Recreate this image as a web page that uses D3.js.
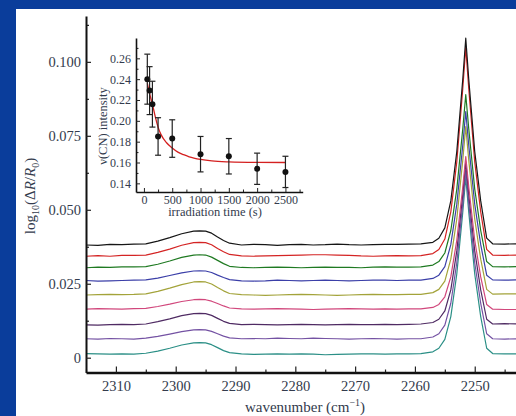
<!DOCTYPE html>
<html>
<head>
<meta charset="utf-8">
<script src="https://cdn.jsdelivr.net/npm/d3@7"></script>
<style>
  body { margin: 0; background: #0a3d9b; }
  svg { display: block; }
  text { font-family: "Liberation Serif", "Times New Roman", serif; fill: #333b4d; }
</style>
</head>
<body>
<svg id="chart" width="516" height="416"></svg>
<script>
// wavenumber grid (cm-1), shared by all spectra
var wavenumbers = [2315, 2313, 2311, 2309, 2307, 2305, 2303, 2301, 2299, 2297, 2296, 2295, 2294, 2293, 2292, 2291,
  2289, 2287, 2285, 2283, 2281, 2279, 2277, 2275, 2273, 2271, 2269, 2267, 2265, 2263, 2261, 2259,
  2257, 2256, 2255, 2254, 2253, 2252, 2251.5, 2251, 2250, 2249, 2248, 2247, 2245, 2243];

var seriesColors = ["#161616", "#d42424", "#1f7a22", "#3b3fa8", "#a3a33a", "#d1477c", "#4f2b63", "#7452a3", "#2b8f86"];

// log10(dR/R0), top trace first
var spectra = [
  [0.0381, 0.0380, 0.0383, 0.0382, 0.0384, 0.0385, 0.0394, 0.0406, 0.0419, 0.0428, 0.0429, 0.0428, 0.0421, 0.0408, 0.0396, 0.0387,
   0.0381, 0.0383, 0.0382, 0.0380, 0.0382, 0.0383, 0.0381, 0.0382, 0.0384, 0.0382, 0.0381, 0.0382, 0.0383, 0.0383, 0.0384, 0.0385,
   0.0390, 0.0404, 0.0439, 0.0530, 0.0697, 0.0941, 0.1080, 0.0941, 0.0697, 0.0530, 0.0404, 0.0385, 0.0384, 0.0385],
  [0.0343, 0.0345, 0.0343, 0.0346, 0.0346, 0.0347, 0.0356, 0.0367, 0.0380, 0.0389, 0.0390, 0.0389, 0.0382, 0.0369, 0.0358, 0.0349,
   0.0344, 0.0343, 0.0344, 0.0345, 0.0346, 0.0347, 0.0348, 0.0348, 0.0347, 0.0346, 0.0344, 0.0343, 0.0344, 0.0345, 0.0344, 0.0345,
   0.0352, 0.0366, 0.0401, 0.0493, 0.0662, 0.0909, 0.1049, 0.0909, 0.0662, 0.0493, 0.0366, 0.0347, 0.0346, 0.0347],
  [0.0304, 0.0306, 0.0305, 0.0307, 0.0307, 0.0308, 0.0316, 0.0327, 0.0339, 0.0347, 0.0348, 0.0347, 0.0340, 0.0329, 0.0318, 0.0309,
   0.0305, 0.0304, 0.0305, 0.0306, 0.0305, 0.0304, 0.0305, 0.0306, 0.0305, 0.0305, 0.0304, 0.0306, 0.0307, 0.0306, 0.0306, 0.0307,
   0.0313, 0.0325, 0.0354, 0.0430, 0.0570, 0.0774, 0.0889, 0.0774, 0.0570, 0.0430, 0.0325, 0.0308, 0.0307, 0.0308],
  [0.0261, 0.0259, 0.0260, 0.0261, 0.0262, 0.0263, 0.0269, 0.0278, 0.0287, 0.0293, 0.0294, 0.0293, 0.0288, 0.0279, 0.0271, 0.0264,
   0.0260, 0.0259, 0.0260, 0.0262, 0.0261, 0.0260, 0.0261, 0.0262, 0.0261, 0.0260, 0.0261, 0.0262, 0.0262, 0.0261, 0.0262, 0.0262,
   0.0268, 0.0279, 0.0308, 0.0382, 0.0519, 0.0718, 0.0832, 0.0718, 0.0519, 0.0382, 0.0279, 0.0263, 0.0262, 0.0263],
  [0.0212, 0.0213, 0.0214, 0.0213, 0.0214, 0.0216, 0.0224, 0.0235, 0.0247, 0.0256, 0.0257, 0.0256, 0.0249, 0.0237, 0.0226, 0.0217,
   0.0213, 0.0212, 0.0211, 0.0212, 0.0213, 0.0214, 0.0213, 0.0212, 0.0211, 0.0212, 0.0213, 0.0214, 0.0213, 0.0213, 0.0214, 0.0214,
   0.0220, 0.0231, 0.0259, 0.0333, 0.0469, 0.0668, 0.0781, 0.0668, 0.0469, 0.0333, 0.0231, 0.0215, 0.0216, 0.0216],
  [0.0164, 0.0166, 0.0165, 0.0164, 0.0166, 0.0167, 0.0173, 0.0181, 0.0190, 0.0196, 0.0197, 0.0196, 0.0191, 0.0183, 0.0175, 0.0168,
   0.0165, 0.0164, 0.0165, 0.0166, 0.0165, 0.0164, 0.0163, 0.0164, 0.0165, 0.0166, 0.0165, 0.0164, 0.0165, 0.0164, 0.0165, 0.0165,
   0.0170, 0.0180, 0.0206, 0.0273, 0.0397, 0.0577, 0.0680, 0.0577, 0.0397, 0.0273, 0.0180, 0.0164, 0.0163, 0.0163],
  [0.0111, 0.0110, 0.0112, 0.0113, 0.0112, 0.0114, 0.0122, 0.0131, 0.0142, 0.0149, 0.0150, 0.0149, 0.0143, 0.0133, 0.0123, 0.0116,
   0.0112, 0.0113, 0.0112, 0.0111, 0.0112, 0.0113, 0.0112, 0.0111, 0.0112, 0.0113, 0.0112, 0.0112, 0.0113, 0.0112, 0.0113, 0.0114,
   0.0119, 0.0130, 0.0158, 0.0229, 0.0361, 0.0552, 0.0662, 0.0552, 0.0361, 0.0229, 0.0130, 0.0114, 0.0115, 0.0114],
  [0.0064, 0.0063, 0.0065, 0.0064, 0.0063, 0.0066, 0.0072, 0.0080, 0.0088, 0.0094, 0.0095, 0.0094, 0.0089, 0.0081, 0.0073, 0.0067,
   0.0064, 0.0065, 0.0064, 0.0066, 0.0065, 0.0064, 0.0066, 0.0065, 0.0064, 0.0063, 0.0064, 0.0065, 0.0064, 0.0063, 0.0064, 0.0064,
   0.0070, 0.0081, 0.0110, 0.0184, 0.0321, 0.0520, 0.0634, 0.0520, 0.0321, 0.0184, 0.0081, 0.0064, 0.0063, 0.0064],
  [0.0014, 0.0013, 0.0012, 0.0013, 0.0012, 0.0015, 0.0022, 0.0032, 0.0043, 0.0050, 0.0051, 0.0050, 0.0044, 0.0034, 0.0024, 0.0017,
   0.0013, 0.0011, 0.0012, 0.0013, 0.0012, 0.0013, 0.0012, 0.0010, 0.0011, 0.0012, 0.0013, 0.0013, 0.0012, 0.0013, 0.0013, 0.0014,
   0.0020, 0.0032, 0.0062, 0.0139, 0.0283, 0.0492, 0.0610, 0.0492, 0.0283, 0.0139, 0.0032, 0.0014, 0.0013, 0.0013]
];

var xTicks = [2310, 2300, 2290, 2280, 2270, 2260, 2250];
var yTicks = [0, 0.025, 0.05, 0.075, 0.1];
var yTickLabels = ["0", "0.025", "0.050", "0.075", "0.100"];

// inset: nu(CN) intensity vs irradiation time
var irrTime = [60, 100, 150, 250, 500, 1000, 1500, 2000, 2500];
var cnIntensity = [0.240, 0.229, 0.216, 0.185, 0.183, 0.168, 0.166, 0.154, 0.151];
var cnError = [0.024, 0.023, 0.022, 0.018, 0.018, 0.017, 0.017, 0.015, 0.015];
var fitTime = [60, 100, 150, 200, 250, 300, 400, 500, 600, 700, 800, 1000, 1200, 1500, 2000, 2500];
var fitIntensity = [0.236, 0.226, 0.216, 0.204, 0.194, 0.187, 0.179, 0.174, 0.170, 0.1675, 0.1655, 0.163, 0.1615, 0.1606, 0.1601, 0.1600];
var insetXTicks = [0, 500, 1000, 1500, 2000, 2500];
var insetYTicks = [0.14, 0.16, 0.18, 0.20, 0.22, 0.24, 0.26];

var serif = "'Liberation Serif', 'Times New Roman', serif";
var textColor = "#333b4d";
var svg = d3.select("#chart");

// white page area
svg.append("rect").attr("x", 16).attr("y", 9).attr("width", 500).attr("height", 407).attr("fill", "#ffffff");

var x = d3.scaleLinear().domain([2315, 2243.1]).range([86, 516]);
var y = d3.scaleLinear().domain([-0.005, 0.1155]).range([372.5, 16]);

svg.append("clipPath").attr("id", "plotclip")
  .append("rect").attr("x", 86).attr("y", 10).attr("width", 430).attr("height", 362.5);

var line = d3.line()
  .x(function(d, i) { return x(wavenumbers[i]); })
  .y(function(d) { return y(d); });

var traces = svg.append("g").attr("clip-path", "url(#plotclip)");
// draw bottom trace first so black ends on top
for (var i = spectra.length - 1; i >= 0; i--) {
  traces.append("path")
    .attr("d", line(spectra[i]))
    .attr("fill", "none")
    .attr("stroke", seriesColors[i])
    .attr("stroke-width", 1.2)
    .attr("stroke-linejoin", "round");
}

// main axes, ticks point inward
var xMinor = d3.range(2245, 2316, 5).filter(function(v) { return v % 10 != 0; });
svg.append("g").attr("transform", "translate(0,372.5)")
  .call(d3.axisBottom(x).tickValues(xMinor).tickSize(-3).tickSizeOuter(0).tickFormat(""))
  .call(function(g) { g.select(".domain").remove(); });
var gx = svg.append("g").attr("transform", "translate(0,372.5)")
  .call(d3.axisBottom(x).tickValues(xTicks).tickSize(-6).tickSizeOuter(0).tickPadding(8).tickFormat(d3.format("d")));

var yMinor = [0.0125, 0.0375, 0.0625, 0.0875, 0.1125];
svg.append("g").attr("transform", "translate(86,0)")
  .call(d3.axisLeft(y).tickValues(yMinor).tickSize(-3).tickSizeOuter(0).tickFormat(""))
  .call(function(g) { g.select(".domain").remove(); });
var gy = svg.append("g").attr("transform", "translate(86,0)")
  .call(d3.axisLeft(y).tickValues(yTicks).tickSize(-5).tickSizeOuter(0).tickPadding(5)
    .tickFormat(function(d, i) { return yTickLabels[i]; }));

[gx, gy].forEach(function(g) {
  g.attr("font-family", serif).attr("font-size", 14.5);
  g.selectAll("text").style("font-family", serif).style("font-size", "14.5px").attr("fill", textColor);
});

svg.selectAll(".domain").attr("stroke", "#111").attr("stroke-width", 2);
gx.select(".domain").attr("stroke-width", 2.6);
svg.selectAll(".tick line").attr("stroke", "#222").attr("stroke-width", 1.2);

// axis titles
var xl = svg.append("text").attr("x", 305).attr("y", 412).attr("text-anchor", "middle").style("font-size", "15px");
xl.append("tspan").text("wavenumber (cm");
xl.append("tspan").attr("dy", -6).style("font-size", "10px").text("\u22121");
xl.append("tspan").attr("dy", 6).text(")");

var yl = svg.append("text").attr("transform", "translate(35,196) rotate(-90)")
  .attr("text-anchor", "middle").style("font-size", "15px");
yl.append("tspan").text("log");
yl.append("tspan").attr("dy", 4).style("font-size", "10px").text("10");
yl.append("tspan").attr("dy", -4).text("(\u0394");
yl.append("tspan").style("font-style", "italic").text("R");
yl.append("tspan").text("/");
yl.append("tspan").style("font-style", "italic").text("R");
yl.append("tspan").attr("dy", 4).style("font-size", "10px").text("0");
yl.append("tspan").attr("dy", -4).text(")");

// ---- inset ----
var ix = d3.scaleLinear().domain([-140, 2805]).range([136, 302.7]);
var iy = d3.scaleLinear().domain([0.1317, 0.2795]).range([192, 38]);
var inset = svg.append("g");

inset.append("g").attr("transform", "translate(0,192)")
  .call(d3.axisBottom(ix).tickValues([250, 750, 1250, 1750, 2250, 2750]).tickSize(-2.5).tickSizeOuter(0).tickFormat(""))
  .call(function(g) { g.select(".domain").remove(); });
var igx = inset.append("g").attr("transform", "translate(0,192)")
  .call(d3.axisBottom(ix).tickValues(insetXTicks).tickSize(-4).tickSizeOuter(0).tickPadding(3).tickFormat(d3.format("d")));
inset.append("g").attr("transform", "translate(136,0)")
  .call(d3.axisLeft(iy).tickValues([0.15, 0.17, 0.19, 0.21, 0.23, 0.25, 0.27]).tickSize(-2.5).tickSizeOuter(0).tickFormat(""))
  .call(function(g) { g.select(".domain").remove(); });
var igy = inset.append("g").attr("transform", "translate(136,0)")
  .call(d3.axisLeft(iy).tickValues(insetYTicks).tickSize(-4).tickSizeOuter(0).tickPadding(5).tickFormat(d3.format(".2f")));
[igx, igy].forEach(function(g) {
  g.attr("font-family", serif).attr("font-size", 12);
  g.selectAll("text").style("font-family", serif).style("font-size", "12px").attr("fill", textColor);
});
inset.selectAll(".domain").attr("stroke", "#111").attr("stroke-width", 1.6);
inset.selectAll(".tick line").attr("stroke", "#222").attr("stroke-width", 1);

inset.append("path")
  .attr("d", d3.line().curve(d3.curveMonotoneX)
    .x(function(d, i) { return ix(fitTime[i]); })
    .y(function(d) { return iy(d); })(fitIntensity))
  .attr("fill", "none").attr("stroke", "#d42020").attr("stroke-width", 1.3);

var pts = inset.selectAll("g.pt").data(cnIntensity).enter().append("g").attr("class", "pt");
pts.append("line")
  .attr("x1", function(d, i) { return ix(irrTime[i]); }).attr("x2", function(d, i) { return ix(irrTime[i]); })
  .attr("y1", function(d, i) { return iy(d - cnError[i]); }).attr("y2", function(d, i) { return iy(d + cnError[i]); })
  .attr("stroke", "#222").attr("stroke-width", 1.2);
[-1, 1].forEach(function(s) {
  pts.append("line")
    .attr("x1", function(d, i) { return ix(irrTime[i]) - 3; }).attr("x2", function(d, i) { return ix(irrTime[i]) + 3; })
    .attr("y1", function(d, i) { return iy(d + s * cnError[i]); }).attr("y2", function(d, i) { return iy(d + s * cnError[i]); })
    .attr("stroke", "#222").attr("stroke-width", 1.2);
});
pts.append("circle")
  .attr("cx", function(d, i) { return ix(irrTime[i]); })
  .attr("cy", function(d) { return iy(d); })
  .attr("r", 3).attr("fill", "#111");

inset.append("text").attr("x", 215).attr("y", 216).attr("text-anchor", "middle")
  .style("font-size", "12.5px").text("irradiation time (s)");
inset.append("text").attr("transform", "translate(107,126) rotate(-90)").attr("text-anchor", "middle")
  .style("font-size", "12.5px").text("\u03bd(CN) intensity");
</script>
</body>
</html>
